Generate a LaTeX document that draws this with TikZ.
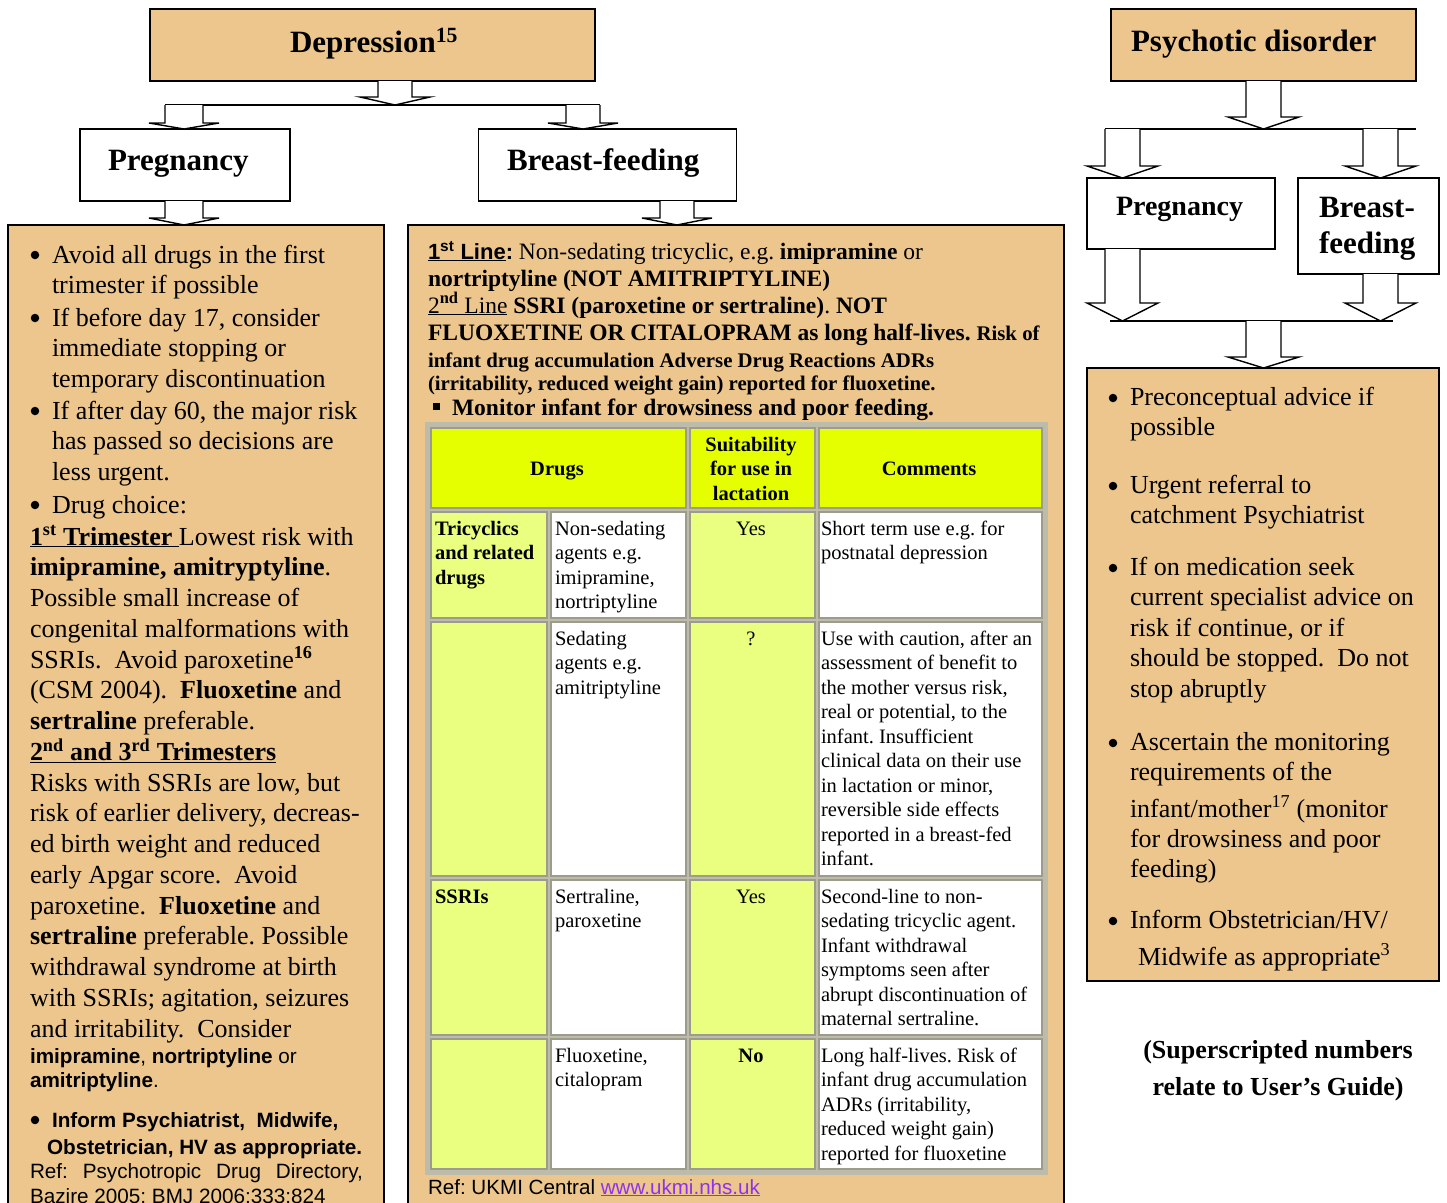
\documentclass[tikz,border=0pt]{standalone}
\usepackage{fontspec}
\setmainfont{Liberation Serif}
\setsansfont{Liberation Sans}
\usetikzlibrary{calc}
\frenchspacing
\definecolor{boxtan}{HTML}{ECC68C}
\definecolor{hdryellow}{HTML}{E6FF00}
\definecolor{cellyellow}{HTML}{EAFF80}
\definecolor{tblframe}{HTML}{BDBBAA}
\definecolor{tblline}{HTML}{9C9B8C}
\definecolor{linkpurple}{HTML}{9030F0}
% font sizes (1 unit = 1pt)
\newcommand\fsHead{\fontsize{31}{36}\selectfont\bfseries}
\newcommand\fsBody{\fontsize{26}{30.75}\selectfont\lineskiplimit=-100pt\lineskip=0pt}
\newcommand\fsRight{\fontsize{26}{30.3}\selectfont\lineskiplimit=-100pt\lineskip=0pt}
\newcommand\fsRightB{\fontsize{26}{30.5}\selectfont\lineskiplimit=-100pt\lineskip=0pt}
\newcommand\fsRightC{\fontsize{26}{37}\selectfont\lineskiplimit=-100pt\lineskip=0pt}
\newcommand\fsMid{\fontsize{23.5}{27}\selectfont\lineskiplimit=-100pt\lineskip=0pt}
\newcommand\fsMidS{\fontsize{20.8}{24}\selectfont}
\newcommand\fsTbl{\fontsize{20.5}{24.5}\selectfont\lineskiplimit=-100pt\lineskip=0pt}
\newcommand\fsArial{\sffamily\fontsize{20.7}{24}\selectfont\lineskiplimit=-100pt\lineskip=0pt}
% fixed first-line height, so that a node's top lies 30pt above its first baseline
\newcommand\fl{\rule{0pt}{30pt}}
% outlined block arrow: top point, tip point, shaft half width, head half width, head length
\newcommand\blockarrow[5]{%
  \draw[blk] ($(#1)+(-#3,0)$) -- ($(#2)+(-#3,-#5)$) -- ($(#2)+(-#4,-#5)$) -- (#2)
    -- ($(#2)+(#4,-#5)$) -- ($(#2)+(#3,-#5)$) -- ($(#1)+(#3,0)$);}
\tikzset{
  txt/.style={anchor=north west, yshift=30pt, inner sep=0pt, outer sep=0pt, align=left},
  ctxt/.style={anchor=north, yshift=30pt, inner sep=0pt, outer sep=0pt, align=center},
  dot/.style={circle, fill=black, inner sep=0pt, minimum size=8.5pt},
  boxframe/.style={draw=black, line width=1.6pt, inner sep=0pt, outer sep=0pt, rectangle},
  tanframe/.style={boxframe, fill=boxtan},
  whiteframe/.style={boxframe, fill=white},
  blk/.style={draw=black, line width=1.4pt, fill=white, line join=miter},
  joinline/.style={draw=black, line width=1.4pt},
  cellc/.style={draw=tblline, line width=1.2pt},
}
\begin{document}
\begin{tikzpicture}[x=1pt,y=-1pt]
\useasboundingbox (0,0) rectangle (1447,1202);
\fill[white] (0,0) rectangle (1447,1202);

% ---------- boxes ----------
\node[tanframe, minimum width=445pt, minimum height=72pt] (dep) at (372.5,45) {};
\node[whiteframe, minimum width=210pt, minimum height=72pt] (preg) at (185,165) {};
\node[whiteframe, minimum width=258pt, minimum height=72pt] (bf) at (607.5,165) {};
\node[tanframe, minimum width=376pt, minimum height=990pt] (lbox) at (196,720) {};
\node[tanframe, minimum width=656pt, minimum height=990pt] (mbox) at (736,720) {};
\node[tanframe, minimum width=305pt, minimum height=72pt] (psy) at (1263.5,45) {};
\node[whiteframe, minimum width=188pt, minimum height=71pt] (rpreg) at (1181,213.5) {};
\node[whiteframe, minimum width=141pt, minimum height=96pt] (rbf) at (1368.5,226) {};
\node[tanframe, minimum width=352pt, minimum height=613pt] (rbox) at (1263,674.5) {};

% ---------- box titles ----------
\node[txt, font=\fsHead] (depl) at (290,52) {\fl Depression\textsuperscript{15}};
\node[txt, font=\fsHead] (pregl) at (108,170) {\fl Pregnancy};
\node[txt, font=\fsHead] (bfl) at (507,170) {\fl Breast-feeding};
\node[txt, font=\fsHead] (psyl) at (1131,51) {\fl Psychotic disorder};
\node[txt, font=\fontsize{28}{32}\selectfont\bfseries] (rpregl) at (1116,215) {\fl Pregnancy};
\node[txt, font=\fontsize{31}{36}\selectfont\bfseries] (rbfl) at (1319,217) {\fl Breast-\\feeding};

% ---------- connectors, depression side ----------
\coordinate (j1) at (395,105);
\coordinate (pa) at (184,105);
\coordinate (ba) at (583,105);
\coordinate (bb) at (677,202);
\draw[joinline] ($(pa)+(-19,0)$) -- ($(ba)+(17,0)$);
\blockarrow{dep.south -| j1}{j1}{17}{35}{8}
\blockarrow{pa}{preg.north -| pa}{19}{35}{6}
\blockarrow{ba}{bf.north -| ba}{17}{35}{6}
\blockarrow{preg.south -| pa}{lbox.north -| pa}{19}{35}{7}
\blockarrow{bf.south -| bb}{mbox.north -| bb}{17}{35}{7}

% ---------- connectors, psychotic side ----------
\coordinate (j2) at (1263.5,129);
\coordinate (rl) at (1122.5,129);
\coordinate (rr) at (1380.5,129);
\coordinate (j3) at (1263.5,321);
\draw[joinline] ($(rl)+(-17.5,0)$) -- ($(rr)+(35.5,0)$);
\draw[joinline] ($(j3 -| rl)+(-12.5,0)$) -- ($(j3 -| rr)+(12.5,0)$);
\blockarrow{psy.south -| j2}{j2}{17.5}{35.5}{12}
\blockarrow{rl}{rpreg.north -| rl}{17.5}{35.5}{12}
\blockarrow{rr}{rbf.north -| rr}{17.5}{35.5}{12}
\blockarrow{rpreg.south -| rl}{j3 -| rl}{17.5}{35.5}{18}
\blockarrow{rbf.south -| rr}{j3 -| rr}{17.5}{35.5}{18}
\blockarrow{j3}{rbox.north -| j3}{17.5}{35.5}{11}

% ---------- pregnancy text ----------
\node[dot] (lb1d) at (35,255) {};
\node[txt, font=\fsBody] (lb1) at (52,263) {\fl Avoid all drugs in the first\\trimester if possible};
\node[dot] (lb2d) at (35,318) {};
\node[txt, font=\fsBody] (lb2) at (52,326) {\fl If before day 17, consider\\immediate stopping or\\temporary discontinuation};
\node[dot] (lb3d) at (35,411) {};
\node[txt, font=\fsBody] (lb3) at (52,419) {\fl If after day 60, the major risk\\has passed so decisions are\\less urgent.};
\node[dot] (lb4d) at (35,505) {};
\node[txt, font=\fsBody] (lb4) at (52,513) {\fl Drug choice:};
\node[txt, font=\fsBody] (lp1) at (30,545) {\fl
\underline{\textbf{1\textsuperscript{st} Trimester}\ }Lowest risk with\\
\textbf{imipramine, amitryptyline}.\\
Possible small increase of\\
congenital malformations with\\
SSRIs.\ \ Avoid paroxetine\textsuperscript{\textbf{16}}\\
(CSM 2004).\ \ \textbf{Fluoxetine} and\\
\textbf{sertraline} preferable.\\
\underline{\textbf{2\textsuperscript{nd} and 3\textsuperscript{rd} Trimesters}}\\
Risks with SSRIs are low, but\\
risk of earlier delivery, decreas-\\
ed birth weight and reduced\\
early Apgar score.\ \ Avoid\\
paroxetine.\ \ \textbf{Fluoxetine} and\\
\textbf{sertraline} preferable. Possible\\
withdrawal syndrome at birth\\
with SSRIs; agitation, seizures\\
and irritability.\ \ Consider};
\node[txt, font=\fsArial] (lp2) at (30,1063) {\fl\textbf{imipramine}, \textbf{nortriptyline} or\\\textbf{amitriptyline}.};
\node[dot] (lb5d) at (35,1120) {};
\node[txt, font=\fsArial\bfseries] (lb5) at (52,1127) {\fl Inform Psychiatrist,\ \ Midwife,\\[3pt]\hspace*{-5pt}Obstetrician, HV as appropriate.};
\node[txt, font=\fsArial] (lref) at (30,1178) {\fl\makebox[333pt][s]{Ref: Psychotropic Drug Directory,}\\[1pt]Bazire 2005; BMJ 2006;333:824};

% ---------- breast-feeding text ----------
\node[txt, font=\fsMid] (mt1) at (428,259) {\fl{\sffamily\bfseries\fontsize{22}{26}\selectfont\underline{1\textsuperscript{st} Line}:} Non-sedating tricyclic, e.g. \textbf{imipramine} or};
\node[txt, font=\fsMid] (mt2) at (428,286) {\fl\textbf{nortriptyline (NOT AMITRIPTYLINE)}};
\node[txt, font=\fsMid] (mt3) at (428,313) {\fl\underline{2\textsuperscript{\textbf{nd}} Line} \textbf{SSRI (paroxetine or sertraline)}. \textbf{NOT}};
\node[txt, font=\fsMid] (mt4) at (428,340) {\fl\textbf{FLUOXETINE OR CITALOPRAM as long half-lives.} {\fsMidS\bfseries Risk of}};
\node[txt, font=\fsMidS\bfseries] (mt5) at (428,367) {\fl infant drug accumulation Adverse Drug Reactions ADRs};
\node[txt, font=\fsMidS\bfseries] (mt6) at (428,390) {\fl(irritability, reduced weight gain) reported for fluoxetine.};
\fill (433,403) rectangle (440,410);
\node[txt, font=\fsMid\bfseries] (mt7) at (452,415) {\fl Monitor infant for drowsiness and poor feeding.};

% ---------- lactation table ----------
\fill[tblframe] (425,422) rectangle (1048,1175);
\filldraw[cellc, fill=hdryellow] (431,428) rectangle (686,508);
\filldraw[cellc, fill=hdryellow] (690,428) rectangle (815,508);
\filldraw[cellc, fill=hdryellow] (819,428) rectangle (1042,508);
\foreach \ya/\yb in {512/618,622/876,880/1035,1039/1169} {
  \filldraw[cellc, fill=cellyellow] (431,\ya) rectangle (547,\yb);
  \filldraw[cellc, fill=white] (551,\ya) rectangle (686,\yb);
  \filldraw[cellc, fill=cellyellow] (690,\ya) rectangle (815,\yb);
  \filldraw[cellc, fill=white] (819,\ya) rectangle (1042,\yb);
}
\node[ctxt, font=\fsTbl\bfseries] (th1) at (557,475) {\fl Drugs};
\node[ctxt, font=\fsTbl\bfseries] (th2) at (751,451) {\fl Suitability\\for use in\\lactation};
\node[ctxt, font=\fsTbl\bfseries] (th3) at (929,475) {\fl Comments};
\node[txt, font=\fsTbl\bfseries] (r1c1) at (435,535) {\fl Tricyclics\\and related\\drugs};
\node[txt, font=\fsTbl] (r1c2) at (555,535) {\fl Non-sedating\\agents e.g.\\imipramine,\\nortriptyline};
\node[ctxt, font=\fsTbl] (r1c3) at (751,535) {\fl Yes};
\node[txt, font=\fsTbl] (r1c4) at (821,535) {\fl Short term use e.g. for\\postnatal depression};
\node[txt, font=\fsTbl] (r2c2) at (555,645) {\fl Sedating\\agents e.g.\\amitriptyline};
\node[ctxt, font=\fsTbl] (r2c3) at (751,645) {\fl ?};
\node[txt, font=\fsTbl] (r2c4) at (821,645) {\fl Use with caution, after an\\assessment of benefit to\\the mother versus risk,\\real or potential, to the\\infant. Insufficient\\clinical data on their use\\in lactation or minor,\\reversible side effects\\reported in a breast-fed\\infant.};
\node[txt, font=\fsTbl\bfseries] (r3c1) at (435,903) {\fl SSRIs};
\node[txt, font=\fsTbl] (r3c2) at (555,903) {\fl Sertraline,\\paroxetine};
\node[ctxt, font=\fsTbl] (r3c3) at (751,903) {\fl Yes};
\node[txt, font=\fsTbl] (r3c4) at (821,903) {\fl Second-line to non-\\sedating tricyclic agent.\\Infant withdrawal\\symptoms seen after\\abrupt discontinuation of\\maternal sertraline.};
\node[txt, font=\fsTbl] (r4c2) at (555,1062) {\fl Fluoxetine,\\citalopram};
\node[ctxt, font=\fsTbl\bfseries] (r4c3) at (751,1062) {\fl No};
\node[txt, font=\fsTbl] (r4c4) at (821,1062) {\fl Long half-lives. Risk of\\infant drug accumulation\\ADRs (irritability,\\reduced weight gain)\\reported for fluoxetine};
\node[txt, font=\sffamily\fontsize{20.6}{24}\selectfont] (mref) at (428,1194) {\fl Ref: UKMI Central {\color{linkpurple}\underline{www.ukmi.nhs.uk}}};

% ---------- psychotic disorder text ----------
\node[dot] (rb1d) at (1113,398) {};
\node[txt, font=\fsRight] (rb1) at (1130,405) {\fl Preconceptual advice if\\possible};
\node[dot] (rb2d) at (1113,486) {};
\node[txt, font=\fsRight] (rb2) at (1130,493) {\fl Urgent referral to\\catchment Psychiatrist};
\node[dot] (rb3d) at (1113,568) {};
\node[txt, font=\fsRightB] (rb3) at (1130,575) {\fl If on medication seek\\current specialist advice on\\risk if continue, or if\\should be stopped.\ \ Do not\\stop abruptly};
\node[dot] (rb4d) at (1113,743) {};
\node[txt, font=\fsRight] (rb4) at (1130,750) {\fl Ascertain the monitoring\\requirements of the};
\node[txt, font=\fsRight] (rb4b) at (1130,817) {\fl infant/mother\textsuperscript{17} (monitor\\for drowsiness and poor\\feeding)};
\node[dot] (rb5d) at (1113,921) {};
\node[txt, font=\fsRightC] (rb5) at (1130,928) {\fl Inform Obstetrician/HV/\\\hspace*{8pt}Midwife as appropriate\textsuperscript{3}};

\node[ctxt, font=\fontsize{26}{37}\selectfont\bfseries] (note) at (1278,1058) {\fl(Superscripted numbers\\relate to User’s Guide)};
\end{tikzpicture}
\end{document}
